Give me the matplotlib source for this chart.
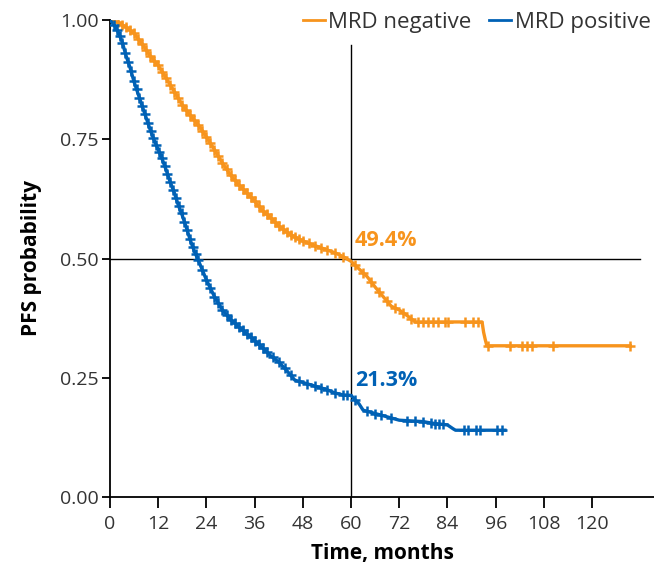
import numpy as np
import matplotlib
matplotlib.use("Agg")
import matplotlib.pyplot as plt

plt.rcParams['font.family'] = ['Open Sans', 'DejaVu Sans']

# curve vertices (months, PFS probability)
neg_t = [0, 2, 4, 6, 8, 10, 12, 14, 16, 18, 20, 22, 24, 26, 28, 30, 32, 34,
         36, 38, 40, 42, 44, 46, 48, 50, 52, 54, 56, 58, 60, 62, 64, 66, 68,
         70, 72, 74, 76, 92.6, 93.0, 93.4, 93.8, 129.5]
neg_s = [1.0, 0.995, 0.985, 0.972, 0.950, 0.925, 0.905, 0.878, 0.850, 0.822,
         0.800, 0.780, 0.755, 0.728, 0.700, 0.675, 0.655, 0.638, 0.620, 0.600,
         0.585, 0.568, 0.555, 0.545, 0.537, 0.530, 0.524, 0.518, 0.512, 0.504,
         0.494, 0.478, 0.462, 0.440, 0.420, 0.400, 0.392, 0.380, 0.367, 0.367,
         0.345, 0.330, 0.317, 0.317]

pos_t = [0, 1, 2, 3, 4, 5, 6, 7, 8, 9, 10, 11, 12, 13, 14, 15, 16, 17, 18,
         19, 20, 21, 22, 24, 26, 28, 30, 32, 34, 36, 38, 40, 42, 44, 46, 48,
         50, 52, 54, 56, 58, 60, 62, 63, 66, 69, 72, 78, 80, 84, 85.4, 86,
         98.3]
pos_s = [1.0, 0.99, 0.975, 0.955, 0.925, 0.90, 0.87, 0.845, 0.82, 0.795,
         0.77, 0.748, 0.728, 0.708, 0.685, 0.66, 0.638, 0.612, 0.59, 0.565,
         0.538, 0.515, 0.496, 0.455, 0.420, 0.392, 0.372, 0.357, 0.342, 0.328,
         0.312, 0.296, 0.283, 0.265, 0.245, 0.240, 0.235, 0.230, 0.225, 0.218,
         0.214, 0.213, 0.195, 0.182, 0.175, 0.168, 0.161, 0.158, 0.155, 0.151,
         0.143, 0.140, 0.140]

# censored observations (+ marks)
neg_cens = [2, 3, 4, 5, 6, 7, 8, 9, 10, 11, 12, 13, 14, 15, 16, 17, 18, 19,
            20, 21, 22, 23, 24, 25, 26, 27, 28, 29, 30, 31, 32, 33, 34, 35,
            36, 37, 38, 39, 40, 41, 42, 43, 44, 45, 46, 47, 48, 49.5, 51,
            52.5, 54, 56, 58, 61, 63, 65, 67, 69, 71, 73, 75, 76.7, 77.9,
            79.2, 80.4, 81.7, 83.4, 84.1, 88.4, 90.4, 91.6, 94.1, 99.6, 102.6,
            103.8, 105, 110.3, 129.4]
pos_cens = [1, 1.7, 2.4, 3.1, 3.8, 4.5, 5.2, 5.9, 6.6, 7.3, 8, 8.7, 9.4,
            10.1, 10.8, 11.5, 12.2, 12.9, 13.6, 14.3, 15, 15.7, 16.4, 17.1,
            17.8, 18.5, 19.2, 19.9, 20.6, 21.3, 22, 23, 24, 25, 26, 27, 28,
            29, 30, 31, 32, 33, 34, 35, 36, 37, 38, 39, 40.5, 42, 43.5, 45,
            47, 49, 51, 52.5, 54, 56, 58, 59, 61, 64, 66, 67.5, 70, 74, 76,
            78, 80, 81, 82, 83, 88, 89, 91, 92, 96.3, 97.6]

landmark = 60
neg_label = "49.4%"
pos_label = "21.3%"

orange = "#F7941D"
blue = "#0061B5"

fig = plt.figure(figsize=(6.54, 5.74), dpi=100)
ax = fig.add_axes([110 / 654, 1 - 497 / 574, 544 / 654, 477 / 574])

ax.plot([landmark, landmark], [0, 0.948], color="black", lw=1.0, zorder=1)
ax.plot([0, 132], [0.5, 0.5], color="black", lw=1.0, zorder=1)

ax.plot(neg_t, neg_s, color=orange, lw=2.4, label="MRD negative", zorder=3)
ax.plot(pos_t, pos_s, color=blue, lw=2.4, label="MRD positive", zorder=3)
ax.plot(neg_cens, np.interp(neg_cens, neg_t, neg_s), "+", color=orange,
        ms=7.5, mew=1.8, zorder=3)
ax.plot(pos_cens, np.interp(pos_cens, pos_t, pos_s), "+", color=blue,
        ms=7.5, mew=1.8, zorder=3)

ax.text(61, 0.537, neg_label, color=orange, fontsize=15.5, fontweight="bold", va="center")
ax.text(61, 0.245, pos_label, color=blue, fontsize=15.5, fontweight="bold", va="center")

ax.set_xlim(0, 135.4)
ax.set_ylim(0, 1.0)
ax.set_xticks(range(0, 121, 12))
ax.set_yticks([0, 0.25, 0.5, 0.75, 1.0])
ax.set_yticklabels(["0.00", "0.25", "0.50", "0.75", "1.00"])
ax.tick_params(axis="both", labelsize=14, width=1.3, color="black", labelcolor="#333333")
ax.tick_params(axis="x", length=8, pad=5)
ax.tick_params(axis="y", length=6, pad=2)

for side in ["top", "right"]:
    ax.spines[side].set_visible(False)
for side in ["left", "bottom"]:
    ax.spines[side].set_linewidth(1.3)

ax.set_xlabel("Time, months", fontsize=15, fontweight="bold", labelpad=7)
ax.set_ylabel("PFS probability", fontsize=15, fontweight="bold", labelpad=13)

leg = ax.legend(loc="upper right", bbox_to_anchor=(1.01, 1.035), ncol=2, frameon=False,
                fontsize=16, handlelength=1.0, handletextpad=0.15, columnspacing=0.8,
                borderaxespad=0)
for h in leg.get_lines():
    h.set_linewidth(2.0)
for t in leg.get_texts():
    t.set_color("#333333")

fig.savefig("out.png", dpi=100)
